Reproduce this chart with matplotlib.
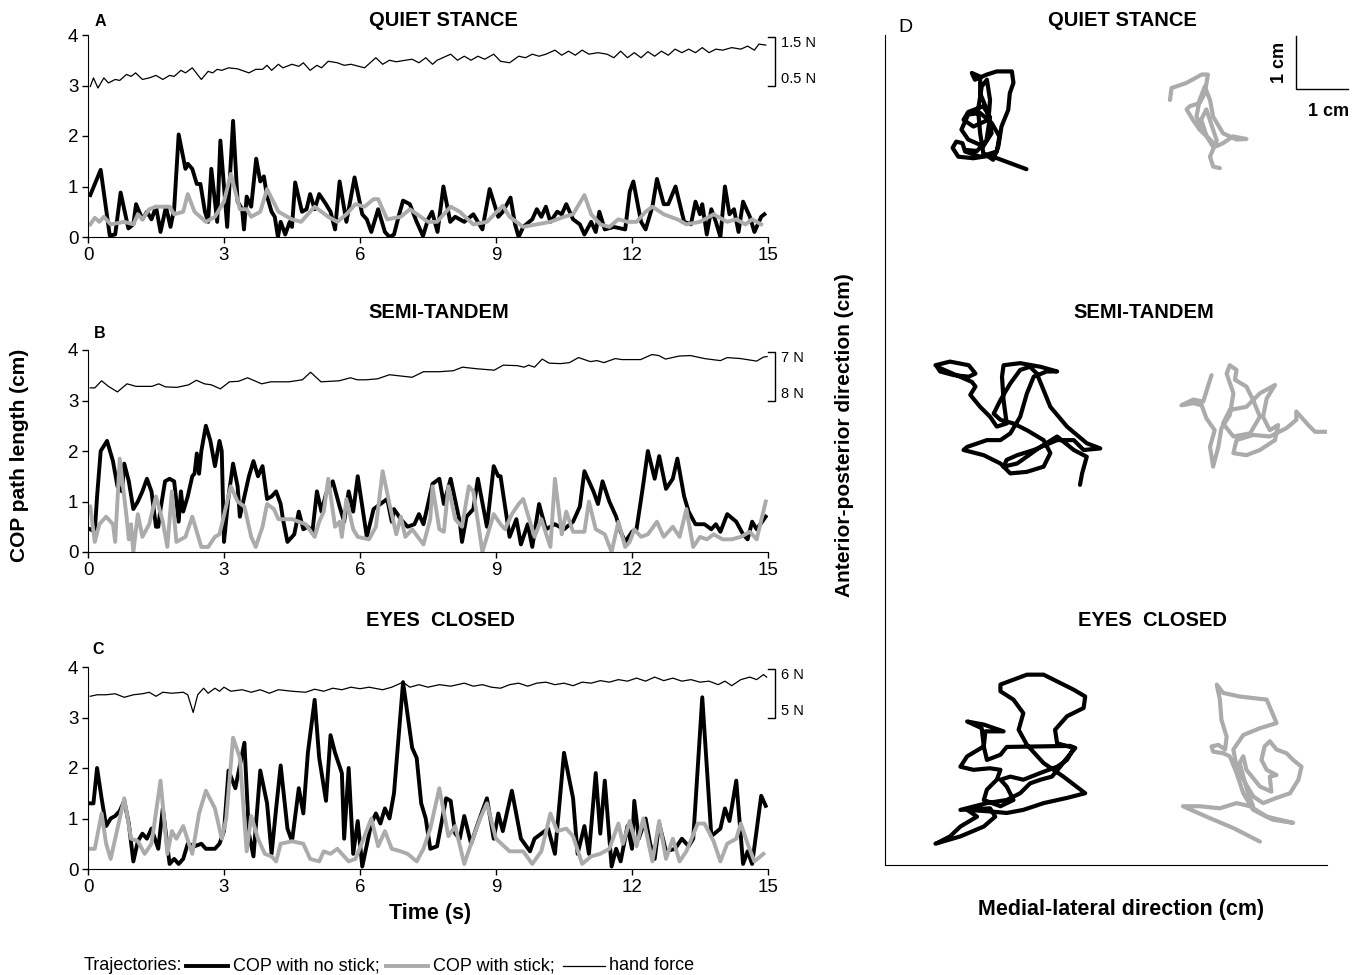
import matplotlib
matplotlib.use("Agg")
import matplotlib.pyplot as plt
from matplotlib.lines import Line2D

plt.rcParams["font.family"] = ["Liberation Sans", "DejaVu Sans"]

W, H = 1363, 975
GRAY = "#ababab"

# time (s), COP path length (cm) pairs
a_nostick = [(0.05, 0.83), (0.28, 1.33), (0.48, 0.03), (0.6, 0.05), (0.72, 0.88), (0.89, 0.17), (1.0, 0.25),
             (1.06, 0.65), (1.2, 0.35), (1.3, 0.5), (1.4, 0.35), (1.5, 0.6), (1.6, 0.1), (1.72, 0.6), (1.82, 0.2),
             (1.9, 0.55), (2.0, 2.03), (2.15, 1.35), (2.2, 1.45), (2.3, 1.35), (2.4, 1.05), (2.48, 1.05),
             (2.58, 0.5), (2.65, 0.3), (2.72, 1.35), (2.85, 0.3), (2.92, 1.91), (3.07, 0.2), (3.2, 2.3), (3.3, 0.7),
             (3.4, 0.55), (3.44, 0.15), (3.5, 0.8), (3.6, 0.6), (3.71, 1.55), (3.8, 1.1), (3.88, 1.2), (3.95, 0.8),
             (4.05, 0.5), (4.12, 0.4), (4.19, 0.0), (4.25, 0.3), (4.35, 0.05), (4.45, 0.3), (4.5, 0.2),
             (4.57, 1.08), (4.72, 0.5), (4.82, 0.55), (4.9, 0.85), (5.0, 0.55), (5.1, 0.85), (5.25, 0.65),
             (5.35, 0.5), (5.45, 0.15), (5.55, 1.1), (5.7, 0.3), (5.88, 1.18), (6.05, 0.45), (6.15, 0.35),
             (6.25, 0.1), (6.4, 0.55), (6.55, 0.1), (6.65, 0.0), (6.75, 0.05), (6.85, 0.4), (6.95, 0.72),
             (7.1, 0.65), (7.25, 0.3), (7.39, 0.02), (7.5, 0.35), (7.59, 0.5), (7.71, 0.1), (7.84, 1.0),
             (7.99, 0.3), (8.1, 0.4), (8.3, 0.3), (8.5, 0.45), (8.7, 0.15), (8.86, 0.95), (9.05, 0.4), (9.15, 0.5),
             (9.32, 0.78), (9.42, 0.25), (9.5, 0.0), (9.6, 0.2), (9.8, 0.35), (9.9, 0.55), (10.0, 0.4),
             (10.1, 0.6), (10.2, 0.3), (10.35, 0.5), (10.45, 0.45), (10.55, 0.65), (10.7, 0.35), (10.85, 0.25),
             (10.95, 0.05), (11.1, 0.3), (11.2, 0.1), (11.28, 0.5), (11.4, 0.15), (11.6, 0.2), (11.85, 0.15),
             (11.95, 0.9), (12.03, 1.1), (12.2, 0.3), (12.3, 0.15), (12.45, 0.6), (12.55, 1.15), (12.7, 0.65),
             (12.8, 0.65), (12.96, 1.0), (13.15, 0.3), (13.3, 0.25), (13.4, 0.7), (13.5, 0.45), (13.55, 0.65),
             (13.65, 0.05), (13.75, 0.55), (13.85, 0.3), (13.95, 0.0), (14.05, 1.0), (14.15, 0.45), (14.25, 0.55),
             (14.35, 0.1), (14.45, 0.7), (14.6, 0.4), (14.7, 0.1), (14.85, 0.4), (14.92, 0.45)]

a_stick = [(0.05, 0.25), (0.15, 0.38), (0.25, 0.3), (0.35, 0.4), (0.5, 0.25), (0.8, 0.3), (1.0, 0.25),
           (1.1, 0.45), (1.2, 0.35), (1.35, 0.55), (1.5, 0.6), (1.8, 0.6), (1.9, 0.45), (2.1, 0.5), (2.2, 0.85),
           (2.35, 0.5), (2.6, 0.3), (2.8, 0.4), (3.0, 0.7), (3.15, 1.25), (3.35, 0.55), (3.5, 0.55), (3.6, 0.4),
           (3.8, 0.5), (3.95, 0.95), (4.2, 0.5), (4.5, 0.35), (4.7, 0.3), (4.85, 0.45), (5.0, 0.6), (5.3, 0.4),
           (5.5, 0.3), (5.7, 0.45), (5.9, 0.65), (6.1, 0.6), (6.3, 0.75), (6.4, 0.75), (6.6, 0.35), (6.9, 0.4),
           (7.1, 0.55), (7.5, 0.3), (7.7, 0.3), (8.0, 0.6), (8.2, 0.5), (8.5, 0.25), (8.8, 0.3), (9.15, 0.62),
           (9.3, 0.4), (9.6, 0.2), (9.9, 0.25), (10.2, 0.3), (10.5, 0.4), (10.7, 0.45), (10.95, 0.83),
           (11.1, 0.45), (11.3, 0.25), (11.5, 0.2), (11.7, 0.35), (11.9, 0.3), (12.1, 0.3), (12.3, 0.5),
           (12.45, 0.6), (12.7, 0.45), (13.0, 0.35), (13.2, 0.25), (13.5, 0.3), (13.8, 0.45), (14.1, 0.3),
           (14.3, 0.35), (14.5, 0.25), (14.65, 0.35), (14.85, 0.25)]

a_force = [(0.05, 2.98), (0.12, 3.15), (0.22, 2.95), (0.35, 3.15), (0.45, 3.05), (0.6, 3.12), (0.7, 3.1),
           (0.85, 3.22), (0.95, 3.18), (1.05, 3.25), (1.2, 3.12), (1.35, 3.15), (1.5, 3.2), (1.65, 3.12),
           (1.8, 3.2), (1.9, 3.18), (2.05, 3.3), (2.15, 3.25), (2.3, 3.35), (2.5, 3.12), (2.65, 3.28),
           (2.75, 3.25), (2.85, 3.32), (2.95, 3.3), (3.1, 3.35), (3.3, 3.33), (3.55, 3.25), (3.7, 3.32),
           (3.85, 3.32), (3.95, 3.4), (4.05, 3.3), (4.2, 3.42), (4.3, 3.35), (4.5, 3.42), (4.65, 3.38),
           (4.75, 3.45), (4.9, 3.3), (5.05, 3.4), (5.15, 3.35), (5.3, 3.48), (5.5, 3.45), (5.65, 3.4),
           (5.8, 3.42), (6.1, 3.35), (6.35, 3.55), (6.5, 3.42), (6.65, 3.5), (6.8, 3.47), (7.0, 3.5),
           (7.15, 3.52), (7.3, 3.45), (7.45, 3.55), (7.6, 3.42), (7.7, 3.5), (8.0, 3.62), (8.15, 3.5),
           (8.3, 3.58), (8.45, 3.5), (8.6, 3.58), (8.75, 3.52), (8.95, 3.62), (9.1, 3.48), (9.3, 3.45),
           (9.5, 3.58), (9.65, 3.55), (9.8, 3.62), (9.95, 3.58), (10.1, 3.62), (10.3, 3.7), (10.45, 3.6),
           (10.6, 3.68), (10.75, 3.6), (10.9, 3.7), (11.05, 3.62), (11.25, 3.65), (11.45, 3.62), (11.6, 3.55),
           (11.75, 3.68), (11.9, 3.55), (12.05, 3.65), (12.2, 3.55), (12.35, 3.67), (12.5, 3.58), (12.65, 3.68),
           (12.8, 3.6), (12.95, 3.72), (13.1, 3.65), (13.25, 3.72), (13.4, 3.65), (13.55, 3.75), (13.7, 3.65),
           (13.85, 3.72), (14.0, 3.7), (14.2, 3.75), (14.4, 3.72), (14.55, 3.78), (14.7, 3.7), (14.8, 3.82),
           (14.95, 3.8)]

b_nostick = [(0.05, 0.45), (0.15, 0.4), (0.2, 1.1), (0.28, 2.0), (0.42, 2.2), (0.55, 1.8), (0.65, 1.3),
             (0.75, 1.2), (0.8, 1.75), (0.9, 1.4), (1.0, 0.85), (1.1, 1.0), (1.2, 1.2), (1.3, 1.45), (1.4, 1.2),
             (1.5, 0.5), (1.55, 0.5), (1.6, 0.85), (1.7, 1.4), (1.8, 1.45), (1.9, 1.4), (2.0, 0.6), (2.05, 1.2),
             (2.1, 0.8), (2.2, 1.1), (2.3, 1.5), (2.35, 1.55), (2.4, 1.95), (2.45, 1.55), (2.5, 2.0), (2.6, 2.5),
             (2.7, 2.2), (2.8, 1.7), (2.9, 2.2), (2.95, 2.0), (3.0, 0.2), (3.1, 1.1), (3.2, 1.75), (3.3, 1.3),
             (3.35, 0.7), (3.45, 1.1), (3.55, 1.5), (3.65, 1.8), (3.75, 1.5), (3.85, 1.7), (3.95, 1.05),
             (4.05, 1.1), (4.15, 1.2), (4.25, 0.95), (4.3, 0.65), (4.4, 0.2), (4.55, 0.35), (4.65, 0.8),
             (4.75, 0.45), (4.85, 0.5), (4.95, 0.4), (5.05, 1.2), (5.15, 0.8), (5.25, 1.15), (5.4, 1.4),
             (5.55, 0.9), (5.65, 0.6), (5.75, 1.2), (5.85, 0.8), (5.95, 1.5), (6.15, 0.3), (6.3, 0.85),
             (6.45, 0.95), (6.6, 1.05), (6.7, 0.6), (6.75, 0.85), (6.9, 0.65), (7.05, 0.5), (7.2, 0.55),
             (7.3, 0.75), (7.4, 0.55), (7.6, 1.35), (7.75, 1.45), (7.85, 0.95), (8.0, 1.45), (8.2, 0.6),
             (8.25, 0.2), (8.35, 0.7), (8.5, 0.85), (8.6, 1.45), (8.8, 0.5), (8.95, 1.7), (9.05, 1.5),
             (9.1, 1.5), (9.3, 0.3), (9.45, 0.65), (9.55, 0.15), (9.7, 0.55), (9.8, 0.1), (9.95, 0.95),
             (10.1, 0.45), (10.3, 0.55), (10.5, 0.45), (10.7, 0.6), (10.85, 0.9), (10.95, 1.6), (11.15, 1.2),
             (11.25, 0.95), (11.35, 1.4), (11.5, 1.0), (11.65, 0.7), (11.75, 0.4), (11.85, 0.2), (12.0, 0.4),
             (12.1, 0.45), (12.25, 1.35), (12.35, 2.0), (12.5, 1.45), (12.6, 1.9), (12.75, 1.25), (12.9, 1.45),
             (13.0, 1.85), (13.15, 1.1), (13.25, 0.8), (13.4, 0.55), (13.6, 0.55), (13.75, 0.45), (13.85, 0.55),
             (13.95, 0.4), (14.1, 0.75), (14.3, 0.6), (14.45, 0.35), (14.55, 0.25), (14.65, 0.6), (14.75, 0.45),
             (14.95, 0.7)]

b_stick = [(0.05, 0.9), (0.15, 0.2), (0.25, 0.55), (0.4, 0.7), (0.55, 0.55), (0.6, 0.2), (0.7, 1.85),
           (0.85, 0.7), (0.9, 0.25), (0.95, 0.55), (1.0, 0.0), (1.1, 0.75), (1.2, 0.3), (1.35, 0.55), (1.5, 1.1),
           (1.65, 0.6), (1.75, 0.1), (1.85, 1.2), (1.95, 0.2), (2.15, 0.3), (2.3, 0.7), (2.5, 0.1), (2.65, 0.1),
           (2.8, 0.3), (2.9, 0.35), (3.15, 1.3), (3.3, 1.0), (3.45, 0.9), (3.6, 0.3), (3.7, 0.1), (3.85, 0.5),
           (3.95, 0.95), (4.1, 0.85), (4.2, 0.65), (4.5, 0.65), (4.8, 0.55), (5.0, 0.3), (5.1, 0.6), (5.2, 0.8),
           (5.3, 1.45), (5.45, 0.5), (5.55, 0.6), (5.6, 0.3), (5.7, 1.05), (5.85, 0.45), (5.95, 0.3),
           (6.2, 0.25), (6.35, 0.5), (6.5, 1.6), (6.65, 0.95), (6.8, 0.35), (6.9, 0.7), (7.0, 0.3), (7.15, 0.45),
           (7.4, 0.15), (7.55, 0.65), (7.6, 1.3), (7.75, 0.45), (7.85, 0.4), (7.95, 1.3), (8.1, 0.65),
           (8.25, 0.5), (8.4, 1.3), (8.5, 1.2), (8.7, 0.0), (8.85, 0.45), (8.95, 0.75), (9.1, 0.55), (9.2, 0.45),
           (9.35, 0.75), (9.5, 0.95), (9.6, 1.05), (9.75, 0.6), (9.85, 0.3), (10.0, 0.65), (10.2, 0.1),
           (10.3, 1.45), (10.45, 0.35), (10.55, 0.8), (10.7, 0.4), (10.95, 0.4), (11.05, 1.0), (11.2, 0.45),
           (11.4, 0.35), (11.55, 0.0), (11.7, 0.6), (11.85, 0.1), (11.95, 0.2), (12.05, 0.45), (12.2, 0.3),
           (12.35, 0.35), (12.55, 0.6), (12.7, 0.3), (12.8, 0.4), (12.9, 0.5), (13.05, 0.3), (13.2, 0.85),
           (13.35, 0.1), (13.5, 0.3), (13.65, 0.25), (13.8, 0.35), (14.0, 0.25), (14.2, 0.25), (14.4, 0.3),
           (14.6, 0.4), (14.75, 0.25), (14.95, 1.0)]

b_force = [(0.05, 3.25), (0.15, 3.25), (0.3, 3.39), (0.45, 3.28), (0.65, 3.17), (0.86, 3.33), (1.06, 3.28),
           (1.41, 3.28), (1.56, 3.33), (1.71, 3.27), (1.96, 3.26), (2.22, 3.31), (2.39, 3.4), (2.57, 3.33),
           (2.72, 3.31), (2.92, 3.23), (3.12, 3.37), (3.32, 3.38), (3.52, 3.45), (3.83, 3.33), (4.03, 3.37),
           (4.43, 3.37), (4.73, 3.41), (4.91, 3.56), (5.14, 3.37), (5.54, 3.39), (5.79, 3.45), (5.94, 3.41),
           (6.14, 3.41), (6.39, 3.43), (6.65, 3.51), (6.95, 3.48), (7.15, 3.46), (7.4, 3.57), (7.75, 3.57),
           (8.06, 3.59), (8.26, 3.66), (8.56, 3.63), (8.96, 3.6), (9.16, 3.7), (9.47, 3.69), (9.62, 3.66),
           (9.72, 3.7), (9.85, 3.66), (10.02, 3.82), (10.17, 3.74), (10.42, 3.73), (10.62, 3.75), (10.82, 3.85),
           (11.08, 3.77), (11.23, 3.79), (11.38, 3.75), (11.63, 3.83), (11.78, 3.81), (12.19, 3.81),
           (12.44, 3.91), (12.59, 3.89), (12.74, 3.82), (13.04, 3.88), (13.29, 3.89), (13.6, 3.83),
           (13.95, 3.79), (14.1, 3.85), (14.4, 3.83), (14.75, 3.78), (14.9, 3.86), (14.98, 3.87)]

c_nostick = [(0.05, 1.3), (0.12, 1.3), (0.2, 2.0), (0.3, 1.4), (0.4, 0.85), (0.5, 1.0), (0.6, 1.05), (0.7, 1.15),
             (0.8, 1.35), (0.9, 0.9), (1.0, 0.15), (1.1, 0.55), (1.2, 0.7), (1.3, 0.6), (1.4, 0.8), (1.55, 0.4),
             (1.65, 1.2), (1.8, 0.1), (1.9, 0.2), (2.0, 0.1), (2.1, 0.2), (2.2, 0.5), (2.35, 0.45), (2.5, 0.5),
             (2.6, 0.4), (2.8, 0.4), (2.9, 0.5), (3.0, 0.75), (3.1, 1.95), (3.25, 1.6), (3.45, 2.5), (3.55, 0.7),
             (3.65, 0.25), (3.8, 1.95), (3.95, 1.3), (4.05, 0.3), (4.15, 1.2), (4.25, 2.05), (4.4, 0.8),
             (4.5, 0.55), (4.65, 1.6), (4.75, 1.1), (4.85, 2.3), (5.0, 3.35), (5.1, 2.2), (5.25, 1.35),
             (5.35, 2.65), (5.45, 2.3), (5.6, 1.9), (5.65, 0.6), (5.75, 2.0), (5.85, 0.3), (5.95, 0.95),
             (6.05, 0.05), (6.25, 0.9), (6.35, 1.1), (6.45, 0.9), (6.55, 1.2), (6.65, 1.0), (6.75, 1.5),
             (6.95, 3.7), (7.15, 2.4), (7.25, 2.2), (7.35, 1.3), (7.45, 1.0), (7.55, 0.4), (7.7, 0.45),
             (7.9, 1.4), (8.0, 1.35), (8.1, 0.7), (8.2, 0.6), (8.3, 1.05), (8.45, 0.5), (8.6, 0.9), (8.8, 1.4),
             (8.95, 0.6), (9.05, 1.1), (9.15, 0.75), (9.35, 1.55), (9.55, 0.6), (9.75, 0.35), (9.85, 0.6),
             (10.0, 0.7), (10.15, 0.8), (10.3, 0.3), (10.5, 2.3), (10.7, 1.4), (10.8, 0.3), (10.95, 0.85),
             (11.05, 0.3), (11.2, 1.9), (11.3, 0.7), (11.4, 1.75), (11.55, 0.05), (11.65, 0.4), (11.75, 0.15),
             (11.9, 0.85), (12.0, 0.4), (12.05, 1.35), (12.15, 0.6), (12.3, 1.0), (12.4, 0.5), (12.5, 0.2),
             (12.6, 0.9), (12.75, 0.35), (12.95, 0.4), (13.1, 0.6), (13.25, 0.45), (13.35, 0.6), (13.55, 3.4),
             (13.75, 0.65), (13.95, 0.8), (14.05, 1.2), (14.15, 0.95), (14.3, 1.75), (14.45, 0.1), (14.55, 0.35),
             (14.65, 0.1), (14.85, 1.45), (14.95, 1.25)]

c_stick = [(0.05, 0.4), (0.15, 0.4), (0.3, 1.1), (0.4, 0.5), (0.5, 0.2), (0.65, 0.8), (0.8, 1.4), (0.95, 0.6),
           (1.1, 0.55), (1.25, 0.3), (1.4, 0.5), (1.6, 1.75), (1.75, 0.3), (1.85, 0.75), (1.95, 0.6), (2.1, 0.85),
           (2.3, 0.3), (2.45, 1.1), (2.6, 1.55), (2.8, 1.2), (2.95, 0.6), (3.05, 1.0), (3.2, 2.6), (3.35, 2.2),
           (3.5, 0.35), (3.6, 1.05), (3.75, 0.6), (3.9, 0.3), (4.05, 0.25), (4.15, 0.15), (4.25, 0.5),
           (4.5, 0.55), (4.75, 0.5), (4.9, 0.2), (5.1, 0.15), (5.2, 0.35), (5.35, 0.3), (5.5, 0.4), (5.75, 0.15),
           (5.9, 0.2), (6.1, 0.65), (6.25, 1.0), (6.4, 0.45), (6.55, 0.75), (6.7, 0.4), (6.9, 0.35), (7.05, 0.3),
           (7.25, 0.15), (7.4, 0.4), (7.55, 0.8), (7.75, 1.6), (7.95, 0.65), (8.1, 0.85), (8.3, 0.1),
           (8.45, 0.5), (8.65, 1.0), (8.8, 1.3), (9.0, 0.6), (9.3, 0.35), (9.6, 0.35), (9.8, 0.1), (10.0, 0.35),
           (10.2, 1.1), (10.35, 0.75), (10.55, 0.8), (10.7, 0.65), (10.9, 0.1), (11.1, 0.25), (11.3, 0.3),
           (11.5, 0.4), (11.7, 0.9), (11.8, 0.5), (11.95, 0.95), (12.1, 0.45), (12.25, 1.0), (12.45, 0.15),
           (12.6, 0.95), (12.75, 0.2), (12.9, 0.6), (13.05, 0.15), (13.2, 0.35), (13.45, 0.9), (13.6, 0.9),
           (13.8, 0.55), (13.95, 0.15), (14.1, 0.5), (14.3, 0.6), (14.4, 0.9), (14.55, 0.5), (14.7, 0.15),
           (14.9, 0.3)]

c_force = [(0.05, 3.42), (0.2, 3.45), (0.4, 3.45), (0.6, 3.47), (0.8, 3.4), (1.0, 3.45), (1.2, 3.47),
           (1.35, 3.5), (1.5, 3.42), (1.65, 3.5), (1.85, 3.48), (2.1, 3.5), (2.2, 3.45), (2.32, 3.1),
           (2.42, 3.45), (2.55, 3.58), (2.65, 3.48), (2.8, 3.58), (2.9, 3.52), (3.0, 3.6), (3.15, 3.52),
           (3.4, 3.55), (3.6, 3.5), (3.8, 3.55), (4.0, 3.48), (4.2, 3.55), (4.5, 3.52), (4.8, 3.5), (5.0, 3.56),
           (5.2, 3.52), (5.4, 3.58), (5.6, 3.55), (5.8, 3.6), (6.0, 3.57), (6.2, 3.6), (6.5, 3.55), (6.7, 3.6),
           (6.95, 3.7), (7.1, 3.6), (7.3, 3.65), (7.5, 3.6), (7.75, 3.65), (8.0, 3.62), (8.3, 3.68), (8.5, 3.62),
           (8.7, 3.65), (8.9, 3.6), (9.1, 3.58), (9.3, 3.65), (9.5, 3.68), (9.7, 3.62), (9.9, 3.68), (10.1, 3.7),
           (10.3, 3.65), (10.5, 3.68), (10.7, 3.63), (10.9, 3.7), (11.1, 3.68), (11.3, 3.73), (11.5, 3.7),
           (11.7, 3.75), (11.9, 3.72), (12.1, 3.78), (12.3, 3.72), (12.5, 3.8), (12.7, 3.73), (12.9, 3.78),
           (13.1, 3.72), (13.3, 3.75), (13.5, 3.7), (13.7, 3.72), (13.9, 3.65), (14.05, 3.72), (14.2, 3.63),
           (14.4, 3.75), (14.6, 3.8), (14.75, 3.75), (14.9, 3.85), (14.97, 3.8)]

# COP trajectories (cm), each relative to its own lower-left corner
qs_nostick_xy = [(1.47, 0.05), (0.77, 0.31), (0.45, 0.26), (0.16, 0.29), (0.05, 0.46), (0.12, 0.58), (0.24, 0.55),
                 (0.29, 0.39), (0.58, 0.29), (0.90, 0.39), (0.95, 0.68), (0.80, 0.94), (0.58, 1.13), (0.35, 1.10),
                 (0.22, 0.81), (0.35, 0.62), (0.64, 0.49), (0.80, 0.74), (0.71, 1.19), (0.58, 1.51), (0.58, 1.83),
                 (0.42, 1.90), (0.48, 1.77), (0.71, 1.87), (0.90, 1.93), (1.19, 1.93), (1.22, 1.71), (1.15, 1.51),
                 (1.12, 1.19), (0.99, 0.87), (0.93, 0.49), (0.83, 0.23), (0.64, 0.36), (0.58, 0.74), (0.54, 1.19),
                 (0.61, 1.64), (0.71, 1.77), (0.77, 1.38), (0.74, 1.00), (0.45, 0.87), (0.26, 1.00), (0.35, 1.15),
                 (0.64, 1.26), (0.77, 1.05), (0.70, 0.60), (0.52, 0.40), (0.30, 0.42)]
qs_stick_xy = [(0.10, 1.38), (0.13, 1.61), (0.42, 1.71), (0.71, 1.87), (0.83, 1.87), (0.77, 1.51), (0.67, 1.32),
               (0.48, 1.26), (0.42, 1.20), (0.54, 1.00), (0.67, 0.81), (0.87, 0.62), (0.99, 0.49), (1.12, 0.55),
               (1.31, 0.68), (1.57, 0.63), (1.38, 0.62), (1.12, 0.74), (0.93, 1.06), (0.87, 1.38), (0.77, 1.64),
               (0.67, 1.38), (0.61, 1.06), (0.77, 0.74), (0.93, 0.49), (0.80, 0.70), (0.70, 1.00), (0.80, 1.20),
               (0.90, 0.90), (1.00, 0.60), (0.87, 0.29), (0.93, 0.10), (1.06, 0.07)]

st_nostick_xy = [(0.10, 2.40), (0.38, 2.47), (0.74, 2.40), (0.87, 2.24), (0.74, 2.18), (0.45, 2.21), (0.19, 2.28),
                 (0.13, 2.37), (0.80, 2.08), (0.87, 1.99), (0.77, 1.83), (0.96, 1.60), (1.15, 1.41), (1.28, 1.22),
                 (1.47, 1.28), (1.41, 1.73), (1.38, 2.18), (1.41, 2.40), (1.73, 2.44), (2.12, 2.37), (2.44, 2.28),
                 (2.24, 2.28), (1.99, 2.18), (1.86, 1.86), (1.73, 1.41), (1.54, 1.09), (1.35, 0.96), (1.09, 0.96),
                 (0.71, 0.83), (0.64, 0.77), (1.03, 0.67), (1.35, 0.51), (1.54, 0.32), (1.86, 0.35), (2.18, 0.45),
                 (2.31, 0.71), (2.18, 0.96), (1.86, 1.15), (1.60, 1.28), (1.35, 1.35), (1.22, 1.47), (1.35, 1.73),
                 (1.54, 2.05), (1.73, 2.31), (1.92, 2.37), (2.05, 2.24), (2.31, 1.60), (2.63, 1.22), (3.01, 0.90),
                 (3.27, 0.80), (2.95, 0.77), (2.76, 0.96), (2.44, 0.96), (1.99, 0.77), (1.67, 0.67), (1.47, 0.58),
                 (1.41, 0.45), (1.67, 0.51), (2.12, 0.83), (2.44, 1.03), (2.76, 0.77), (3.01, 0.64), (2.92, 0.32),
                 (2.88, 0.10)]
st_stick_xy = [(0.61, 2.21), (0.54, 1.99), (0.45, 1.70), (0.26, 1.74), (0.03, 1.63), (0.26, 1.67), (0.42, 1.63),
               (0.51, 1.38), (0.67, 1.15), (0.58, 0.83), (0.64, 0.45), (0.74, 0.83), (0.80, 1.19), (0.96, 1.44),
               (1.03, 1.86), (0.90, 2.24), (0.96, 2.40), (1.09, 2.31), (1.06, 2.12), (1.28, 1.99), (1.41, 1.73),
               (1.54, 1.41), (1.35, 1.09), (1.03, 1.03), (0.83, 1.28), (0.96, 1.54), (1.28, 1.60), (1.54, 1.86),
               (1.83, 2.02), (1.67, 1.76), (1.60, 1.41), (1.73, 1.15), (1.89, 1.25), (1.83, 0.96), (1.54, 0.77),
               (1.28, 0.67), (1.03, 0.71), (1.09, 0.96), (1.41, 1.06), (1.73, 1.03), (2.05, 1.19), (2.24, 1.35),
               (2.24, 1.51), (2.47, 1.25), (2.60, 1.12), (2.82, 1.12)]

ec_nostick_xy = [(0.10, 0.31), (0.58, 0.45), (1.03, 0.64), (1.25, 0.83), (1.15, 0.99), (0.58, 0.96), (1.09, 1.09),
                 (1.47, 1.15), (1.73, 1.28), (1.92, 1.47), (2.12, 1.54), (2.34, 1.60), (2.50, 1.79), (2.63, 1.96),
                 (2.79, 2.15), (2.69, 2.19), (1.47, 2.17), (1.35, 2.02), (1.09, 1.92), (1.03, 2.18), (1.06, 2.47),
                 (1.41, 2.47), (1.03, 2.60), (0.71, 2.66), (0.99, 2.53), (1.03, 2.18), (0.71, 1.99), (0.58, 1.79),
                 (0.83, 1.73), (1.15, 1.76), (1.35, 1.73), (1.28, 1.54), (1.09, 1.35), (1.03, 1.15), (1.35, 1.03),
                 (1.60, 1.15), (1.47, 1.41), (1.35, 1.54), (1.54, 1.60), (1.79, 1.54), (2.12, 1.67), (2.44, 1.79),
                 (2.63, 1.92), (2.76, 2.15), (2.44, 2.24), (2.40, 2.50), (2.63, 2.76), (2.95, 2.92), (2.98, 3.14),
                 (2.76, 3.27), (2.18, 3.56), (1.86, 3.56), (1.35, 3.37), (1.35, 3.24), (1.60, 3.08), (1.79, 2.82),
                 (1.70, 2.50), (1.86, 2.21), (2.18, 1.86), (2.56, 1.60), (2.98, 1.28), (2.63, 1.19), (2.18, 1.09),
                 (1.79, 0.96), (1.47, 0.90), (1.15, 0.93), (0.71, 0.96), (0.90, 0.83), (0.58, 0.64), (0.38, 0.45),
                 (0.13, 0.32)]
ec_stick_xy = [(1.54, 0.35), (1.03, 0.61), (0.51, 0.83), (0.06, 1.03), (0.38, 1.03), (0.77, 0.99), (1.09, 1.09),
               (1.35, 1.03), (1.67, 0.83), (2.18, 0.71), (1.79, 0.77), (1.41, 0.96), (1.22, 1.28), (1.09, 1.67),
               (0.96, 1.99), (0.83, 2.05), (0.64, 2.08), (0.61, 2.18), (0.74, 2.21), (0.87, 2.12), (0.90, 2.37),
               (0.80, 2.69), (0.77, 3.08), (0.71, 3.37), (0.83, 3.21), (1.15, 3.14), (1.67, 3.08), (1.86, 2.63),
               (1.54, 2.53), (1.22, 2.40), (1.03, 2.12), (1.09, 1.79), (1.22, 1.54), (1.41, 1.22), (1.60, 1.09),
               (1.86, 1.19), (2.12, 1.28), (2.28, 1.54), (2.34, 1.79), (2.18, 1.92), (2.05, 2.05), (1.86, 2.12),
               (1.73, 2.28), (1.63, 2.18), (1.57, 1.92), (1.67, 1.73), (1.86, 1.63), (1.73, 1.60), (1.76, 1.31),
               (1.54, 1.41), (1.28, 1.73), (1.22, 1.99), (1.15, 1.86), (1.31, 1.28), (1.41, 1.03)]

force_scales = [("1.5 N", "0.5 N"), ("7 N", "8 N"), ("6 N", "5 N")]
time_ticks = [0, 3, 6, 9, 12, 15]
length_ticks = [0, 1, 2, 3, 4]


def fx(px):
    return px / W


def fy(py):
    return 1 - py / H


def unzip(pairs):
    return [p[0] for p in pairs], [p[1] for p in pairs]


def time_panel(fig, top, bottom, nostick, stick, force, scale):

    ax = fig.add_axes([fx(88), fy(bottom), fx(768) - fx(88), fy(top) - fy(bottom)])

    t, v = unzip(nostick)
    ax.plot(t, v, color="black", lw=2.8, solid_joinstyle="round")
    t, v = unzip(stick)
    ax.plot(t, v, color=GRAY, lw=2.8, solid_joinstyle="round")
    t, v = unzip(force)
    ax.plot(t, v, color="black", lw=0.9)

    ax.set_xlim(0, 15)
    ax.set_ylim(0, 4)
    ax.set_xticks(time_ticks)
    ax.set_yticks(length_ticks)
    ax.spines["top"].set_visible(False)
    ax.spines["right"].set_visible(False)
    ax.tick_params(direction="out", length=4, width=1, labelsize=13.5, pad=3)

    # force scale bracket
    ax.plot([15.0, 15.15, 15.15, 15.0], [3.97, 3.97, 3.0, 3.0],
            color="black", lw=1, clip_on=False)
    ax.text(15.28, 3.84, scale[0], fontsize=10.5, va="center", ha="left")
    ax.text(15.28, 3.13, scale[1], fontsize=10.5, va="center", ha="left")

    return ax


fig = plt.figure(figsize=(W / 100, H / 100), dpi=100)

time_panel(fig, 35, 237, a_nostick, a_stick, a_force, force_scales[0])
time_panel(fig, 350, 552, b_nostick, b_stick, b_force, force_scales[1])
time_panel(fig, 667, 869, c_nostick, c_stick, c_force, force_scales[2])

titles = ["QUIET STANCE", "SEMI-TANDEM", "EYES  CLOSED"]
for title, (x, y) in zip(titles, [(443, 20), (439, 312), (441, 620)]):
    fig.text(fx(x), fy(y), title, fontsize=14.5, fontweight="bold", ha="center", va="center")
for letter, (x, y) in zip("ABC", [(100, 22), (100, 333), (98, 649)]):
    fig.text(fx(x), fy(y), letter, fontsize=11.5, fontweight="bold", ha="center", va="center")

fig.text(fx(20), fy(455), "COP path length (cm)", fontsize=15, fontweight="bold",
         rotation=90, ha="center", va="center")
fig.text(fx(430), fy(913), "Time (s)", fontsize=15.5, fontweight="bold", ha="center", va="center")

# panel D: COP trajectories, axes in cm (1 cm = 52 px)
axd = fig.add_axes([fx(885), fy(865), fx(1327) - fx(885), fy(35) - fy(865)])
axd.set_xlim(0, 8.5)
axd.set_ylim(0, 15.96)
axd.set_xticks([])
axd.set_yticks([])
axd.spines["top"].set_visible(False)
axd.spines["right"].set_visible(False)

trajectories = [
    (qs_nostick_xy, "black", (1.25, 13.33)),
    (qs_stick_xy, GRAY, (5.38, 13.33)),
    (st_nostick_xy, "black", (0.87, 7.21)),
    (st_stick_xy, GRAY, (5.67, 7.21)),
    (ec_nostick_xy, "black", (0.87, 0.10)),
    (ec_stick_xy, GRAY, (5.67, 0.10)),
]
for xy, color, (ox, oy) in trajectories:
    xs, ys = unzip(xy)
    axd.plot([x + ox for x in xs], [y + oy for y in ys], color=color, lw=3.0,
             solid_joinstyle="round", solid_capstyle="round")

# 1 cm scale bars
axd.plot([7.9, 7.9, 8.9], [15.94, 14.92, 14.92], color="black", lw=1, clip_on=False)
fig.text(fx(1279), fy(62), "1 cm", fontsize=13, fontweight="bold", rotation=90, ha="center", va="center")
fig.text(fx(1329), fy(112), "1 cm", fontsize=13, fontweight="bold", ha="center", va="center")

for title, (x, y) in zip(titles, [(1122, 20), (1144, 312), (1153, 620)]):
    fig.text(fx(x), fy(y), title, fontsize=14.5, fontweight="bold", ha="center", va="center")
fig.text(fx(905), fy(27), "D", fontsize=14, ha="center", va="center")
fig.text(fx(1121), fy(909), "Medial-lateral direction (cm)", fontsize=15.5, fontweight="bold",
         ha="center", va="center")
fig.text(fx(845), fy(435), "Anterior-posterior direction (cm)", fontsize=15, fontweight="bold",
         rotation=90, ha="center", va="center")

# legend row at the bottom
ly = fy(966)
fig.text(fx(182), ly, "Trajectories:", fontsize=13, va="center", ha="right")
fig.add_artist(Line2D([fx(186), fx(228)], [ly, ly], color="black", lw=2.8, transform=fig.transFigure))
fig.text(fx(233), ly, "COP with no stick;", fontsize=13, va="center", ha="left")
fig.add_artist(Line2D([fx(386), fx(428)], [ly, ly], color=GRAY, lw=2.8, transform=fig.transFigure))
fig.text(fx(433), ly, "COP with stick;", fontsize=13, va="center", ha="left")
fig.add_artist(Line2D([fx(563), fx(605)], [ly, ly], color="black", lw=0.9, transform=fig.transFigure))
fig.text(fx(609), ly, "hand force", fontsize=13, va="center", ha="left")

fig.savefig("out.png", dpi=100)
